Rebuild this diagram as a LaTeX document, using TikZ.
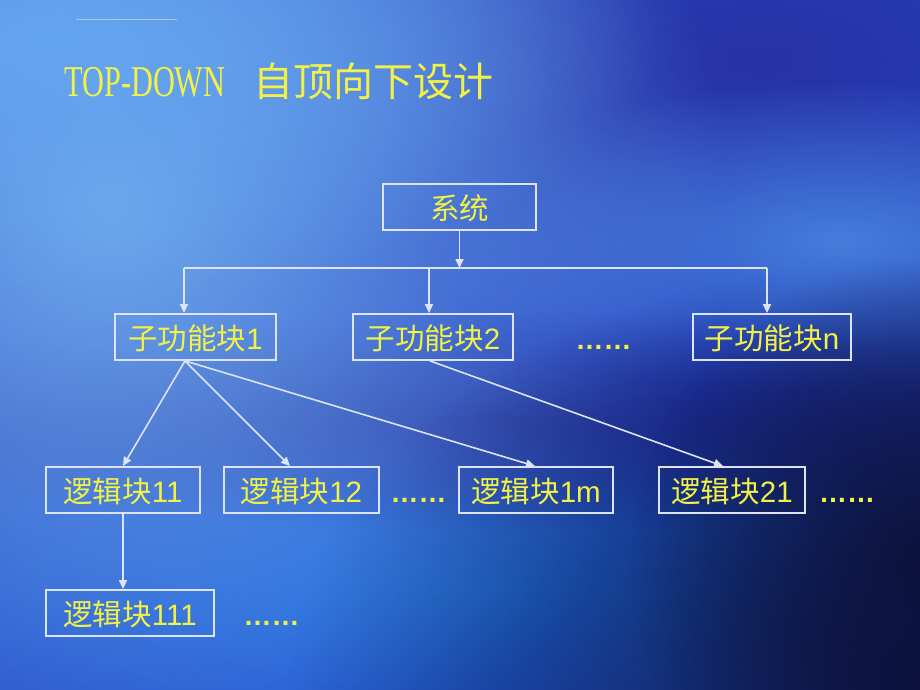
\documentclass[tikz,border=0pt]{standalone}
\usepackage{fontspec}
\setmainfont{Liberation Sans}
\newfontfamily\cjk{Noto Sans CJK SC}
\newfontfamily\titlefont{Liberation Serif}
\usetikzlibrary{arrows.meta,fadings,calc}
\definecolor{txtyellow}{RGB}{242,242,70}
\definecolor{linec}{RGB}{220,228,248}
\definecolor{bgbase}{RGB}{38,68,196}
\tikzfading[name=softc, inner color=transparent!0, outer color=transparent!100]
\tikzset{
  box/.style={draw=linec, line width=1.8pt, inner sep=0pt, minimum height=46pt,
    text=txtyellow, font=\fontsize{29.5}{31}\selectfont, text height=29pt, text depth=5pt},
  dotsnode/.style={inner sep=0pt, anchor=base, text=txtyellow, font=\fontsize{28}{30}\selectfont\bfseries},
  arr/.style={draw=linec, line width=1.6pt, -{Triangle[width=8pt,length=9pt]}},
  ln/.style={draw=linec, line width=1.6pt},
  blob/.style={path fading=softc}
}
\begin{document}
\begin{tikzpicture}[x=1pt,y=-1pt]
\useasboundingbox (0,0) rectangle (920,690);
% background
\fill[bgbase] (0,0) rectangle (920,690);
\fill[blob, color={rgb,255:red,40;green,50;blue,165}] (760,60) ellipse [x radius=560, y radius=260];
\fill[blob, color={rgb,255:red,70;green,125;blue,220}] (840,240) ellipse [x radius=420, y radius=160];
\fill[blob, color={rgb,255:red,28;green,112;blue,228}] (480,590) ellipse [x radius=700, y radius=220];
\fill[blob, color={rgb,255:red,30;green,42;blue,155}] (500,420) ellipse [x radius=760, y radius=110];
\fill[blob, color={rgb,255:red,112;green,170;blue,236}] (110,200) ellipse [x radius=620, y radius=620];
\fill[blob, color={rgb,255:red,100;green,165;blue,240}] (60,40) ellipse [x radius=600, y radius=260];
\fill[blob, color={rgb,255:red,12;green,18;blue,60}] (930,680) ellipse [x radius=640, y radius=420];
\fill[blob, color={rgb,255:red,12;green,18;blue,60}] (930,560) ellipse [x radius=300, y radius=300];
% faint line at top
\draw[color={rgb,255:red,170;green,200;blue,240}, line width=0.6pt] (76,19) -- (177,19);
% title
\node[anchor=base west, inner sep=0pt, text=txtyellow] (t1) at (64,97)
  {\titlefont\fontsize{44}{44}\selectfont\scalebox{0.69}[1]{TOP-DOWN}};
\node[anchor=base west, inner sep=0pt, text=txtyellow] (t2) at (253,97)
  {\cjk\fontsize{40}{40}\selectfont 自顶向下设计};
% nodes
\node[box, minimum width=153pt] (sys) at (459.5,207) {\cjk 系统};
\node[box, minimum width=161pt] (s1) at (195.5,337) {{\cjk 子功能块}1};
\node[box, minimum width=160pt] (s2) at (433,337) {{\cjk 子功能块}2};
\node[dotsnode] (d1) at (603.5,349) {……};
\node[box, minimum width=158pt] (sn) at (772,337) {{\cjk 子功能块}n};
\node[box, minimum width=154pt] (l11) at (123,490) {{\cjk 逻辑块}11};
\node[box, minimum width=155pt] (l12) at (301.5,490) {{\cjk 逻辑块}12};
\node[dotsnode] (d2) at (418.5,502) {……};
\node[box, minimum width=154pt] (l1m) at (536,490) {{\cjk 逻辑块}1m};
\node[box, minimum width=146pt] (l21) at (732,490) {{\cjk 逻辑块}21};
\node[dotsnode] (d3) at (847,502) {……};
\node[box, minimum width=168pt] (l111) at (130,613) {{\cjk 逻辑块}111};
\node[dotsnode] (d4) at (271.5,625) {……};
% connectors
\coordinate (busL) at (184,268);
\coordinate (bus2) at (429,268);
\coordinate (busR) at (767,268);
\coordinate (busM) at (459.5,268);
\draw[arr] (sys.south) -- (busM);
\draw[ln] (busL) -- (busR);
\draw[arr] (busL) -- (busL |- s1.north);
\draw[arr] (bus2) -- (bus2 |- s2.north);
\draw[arr] (busR) -- (busR |- sn.north);
\coordinate (s1o) at ([xshift=-10.5pt]s1.south);
\coordinate (s2o) at ([xshift=-3pt]s2.south);
\draw[arr] (s1o) -- (l11.north);
\draw[arr] (s1o) -- ([xshift=-11.5pt]l12.north);
\draw[arr] (s1o) -- ([xshift=-1pt]l1m.north);
\draw[arr] (s2o) -- ([xshift=-9pt]l21.north);
\draw[arr] (l11.south) -- (l11.south |- l111.north);
\end{tikzpicture}
\end{document}
